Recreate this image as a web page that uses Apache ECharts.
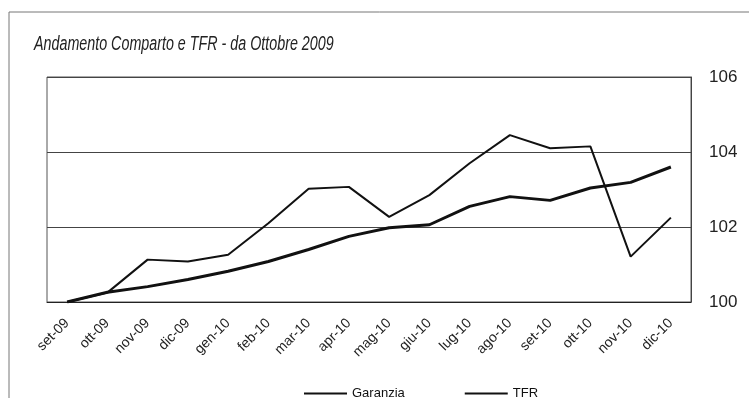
<!DOCTYPE html>
<html>
<head>
<meta charset="utf-8">
<script src="https://cdn.jsdelivr.net/npm/echarts@6/dist/echarts.min.js"></script>
<style>
  html, body { margin: 0; padding: 0; background: #fff; }
  #chart { width: 749px; height: 398px; }
</style>
</head>
<body>
<div id="chart"></div>
<script>
// Monthly index values, base 100 = settembre 2009
const months = ['set-09', 'ott-09', 'nov-09', 'dic-09', 'gen-10', 'feb-10', 'mar-10', 'apr-10',
  'mag-10', 'giu-10', 'lug-10', 'ago-10', 'set-10', 'ott-10', 'nov-10', 'dic-10'];
const garanzia = [100.0, 100.25, 101.13, 101.08, 101.26, 102.1, 103.02, 103.07,
  102.27, 102.85, 103.7, 104.45, 104.1, 104.15, 101.21, 102.25];
const tfr = [100.0, 100.26, 100.41, 100.6, 100.82, 101.08, 101.4, 101.75,
  101.98, 102.06, 102.55, 102.81, 102.71, 103.04, 103.19, 103.6];
const yTicks = { min: 100, max: 106, step: 2 };
const titleText = 'Andamento Comparto e TFR - da Ottobre 2009';

const chart = echarts.init(document.getElementById('chart'), null, { renderer: 'canvas' });

chart.setOption({
  backgroundColor: '#ffffff',
  animation: false,
  graphic: [
    {
      type: 'rect',
      shape: { x: 9, y: 12, width: 800, height: 500 },
      style: { fill: 'none', stroke: '#777', lineWidth: 1 },
      silent: true
    },
    {
      type: 'text',
      left: 34,
      top: 34,
      scaleX: 0.715,
      style: {
        text: titleText,
        font: 'italic 20px "Liberation Sans", "DejaVu Sans", sans-serif',
        fill: '#222'
      }
    }
  ],
  grid: {
    show: true,
    left: 47,
    right: 58,
    top: 77,
    bottom: 96,
    borderColor: '#555',
    borderWidth: 1,
    backgroundColor: 'transparent'
  },
  legend: {
    left: 299,
    top: 382,
    icon: 'rect',
    itemWidth: 43,
    itemHeight: 2,
    itemGap: 60,
    textStyle: { fontSize: 13, color: '#111', fontFamily: '"Liberation Sans", sans-serif' },
    data: ['Garanzia', 'TFR']
  },
  xAxis: {
    type: 'category',
    data: months,
    boundaryGap: true,
    axisLine: { show: true, lineStyle: { color: '#222', width: 1 } },
    axisTick: { show: false },
    axisLabel: {
      interval: 0,
      rotate: 45,
      margin: 19,
      fontSize: 14,
      color: '#222',
      fontFamily: '"Liberation Sans", sans-serif'
    },
    splitLine: { show: false }
  },
  yAxis: {
    type: 'value',
    position: 'right',
    min: yTicks.min,
    max: yTicks.max,
    interval: yTicks.step,
    axisLine: { show: true, lineStyle: { color: '#444' } },
    axisTick: { show: false },
    axisLabel: {
      margin: 18,
      fontSize: 17,
      color: '#222',
      fontFamily: '"Liberation Sans", sans-serif'
    },
    splitLine: { show: true, lineStyle: { color: '#444', width: 1 } }
  },
  series: [
    {
      name: 'Garanzia',
      type: 'line',
      data: garanzia,
      symbol: 'none',
      color: '#111',
      lineStyle: { color: '#111', width: 2 }
    },
    {
      name: 'TFR',
      type: 'line',
      data: tfr,
      symbol: 'none',
      color: '#111',
      lineStyle: { color: '#111', width: 3 }
    }
  ]
});
</script>
</body>
</html>
